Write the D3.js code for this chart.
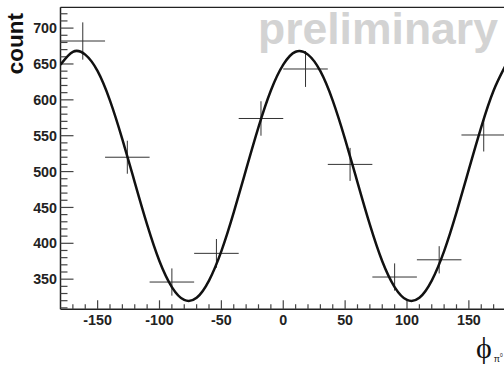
<!DOCTYPE html>
<html>
<head>
<meta charset="utf-8">
<script src="https://cdn.jsdelivr.net/npm/d3@7"></script>
<style>
  html, body { margin: 0; padding: 0; background: #fff; }
  svg { display: block; }
</style>
</head>
<body>
<svg id="chart" width="504" height="367"></svg>
<script>
// ---- data ----
const binCenters = [-162, -126, -90, -54, -18, 18, 54, 90, 126, 162];
const binHalfWidth = 18;
const counts = [682, 520, 346, 386, 574, 643, 510, 353, 377, 551];
const errors = [26, 23, 19, 20, 24, 25, 23, 19, 19, 23];
// fit curve, every 10 degrees
const fitPhi = [-180,-170,-160,-150,-140,-130,-120,-110,-100,-90,-80,-70,-60,-50,-40,-30,-20,-10,0,10,20,30,40,50,60,70,80,90,100,110,120,130,140,150,160,170,180];
const fitVal = [649,667,663,640,599,545,485,426,375,339,321,324,348,389,443,503,562,613,649,667,663,640,599,545,485,426,375,339,321,324,348,389,443,503,562,613,649];
const xTicks = [-150, -100, -50, 0, 50, 100, 150];
const yTicks = [350, 400, 450, 500, 550, 600, 650, 700];

// ---- layout ----
const svg = d3.select("#chart");
const pL = 60.5, pR = 506, pT = 7.3, pB = 309.3;
const x = d3.scaleLinear().domain([-180, 180]).range([pL, pR]);
const y = d3.scaleLinear().domain([308, 729]).range([pB, pT]);
const font = "'Liberation Sans', Arial, Helvetica, sans-serif";

// watermark
svg.append("text")
  .attr("x", 258).attr("y", 44)
  .attr("font-family", font).attr("font-weight", "bold").attr("font-size", 44.5)
  .attr("fill", "#d3d3d3")
  .text("preliminary");

// frame
svg.append("line").attr("x1", pL).attr("x2", 504).attr("y1", pT).attr("y2", pT)
  .attr("stroke", "#222").attr("stroke-width", 1.3);
svg.append("line").attr("x1", pL).attr("x2", pL).attr("y1", pT).attr("y2", pB)
  .attr("stroke", "#222").attr("stroke-width", 1.5);
svg.append("line").attr("x1", pL).attr("x2", 504).attr("y1", pB).attr("y2", pB)
  .attr("stroke", "#222").attr("stroke-width", 1.5);

// y ticks
const yMinor = d3.range(310, 730, 10);
svg.append("g").selectAll("line").data(yMinor).join("line")
  .attr("x1", pL).attr("x2", d => pL + (d % 50 === 0 ? 13 : 7))
  .attr("y1", d => y(d)).attr("y2", d => y(d))
  .attr("stroke", "#444").attr("stroke-width", 1.2);
svg.append("g").selectAll("text").data(yTicks).join("text")
  .attr("x", 57).attr("y", d => y(d)).attr("dy", "0.36em")
  .attr("text-anchor", "end")
  .attr("font-family", font).attr("font-weight", "bold").attr("font-size", 14.3)
  .attr("fill", "#222")
  .text(d => d);

// x ticks
const xMinor = d3.range(-170, 180, 10);
svg.append("g").selectAll("line").data(xMinor).join("line")
  .attr("x1", d => x(d)).attr("x2", d => x(d))
  .attr("y1", pB).attr("y2", d => pB - (d % 50 === 0 ? 9 : 5))
  .attr("stroke", "#444").attr("stroke-width", 1.2);
svg.append("g").selectAll("text").data(xTicks).join("text")
  .attr("x", d => x(d)).attr("y", 324.5)
  .attr("text-anchor", "middle")
  .attr("font-family", font).attr("font-weight", "bold").attr("font-size", 14.3)
  .attr("fill", "#222")
  .text(d => d);

// y label
svg.append("text")
  .attr("transform", "translate(23,13) rotate(-90)")
  .attr("text-anchor", "end")
  .attr("font-family", font).attr("font-weight", "bold").attr("font-size", 22.5)
  .attr("fill", "#111")
  .text("count");

// x label
const xl = svg.append("text")
  .attr("x", 476).attr("y", 358)
  .attr("font-family", "'Liberation Serif', 'DejaVu Serif', serif").attr("font-size", 30)
  .attr("fill", "#111");
xl.append("tspan").text("ϕ");
xl.append("tspan").attr("font-size", 9).attr("dx", 2).attr("dy", 4).attr("font-family", font).text("π");
xl.append("tspan").attr("font-size", 5).attr("dy", -5).attr("font-family", font).text("0");

// data points with error bars
const pts = svg.append("g");
binCenters.forEach((c, i) => {
  pts.append("line")
    .attr("x1", x(c - binHalfWidth)).attr("x2", x(c + binHalfWidth))
    .attr("y1", y(counts[i])).attr("y2", y(counts[i]))
    .attr("stroke", "#333").attr("stroke-width", 1);
  pts.append("line")
    .attr("x1", x(c)).attr("x2", x(c))
    .attr("y1", y(counts[i] - errors[i])).attr("y2", y(counts[i] + errors[i]))
    .attr("stroke", "#333").attr("stroke-width", 1);
});

// fit curve (clipped to plot)
svg.append("clipPath").attr("id", "clip").append("rect")
  .attr("x", pL).attr("y", pT).attr("width", pR - pL).attr("height", pB - pT);
const line = d3.line().x(d => x(d[0])).y(d => y(d[1])).curve(d3.curveNatural);
svg.append("path")
  .attr("clip-path", "url(#clip)")
  .attr("d", line(fitPhi.map((p, i) => [p, fitVal[i]])))
  .attr("fill", "none").attr("stroke", "#111").attr("stroke-width", 2.5);
</script>
</body>
</html>
